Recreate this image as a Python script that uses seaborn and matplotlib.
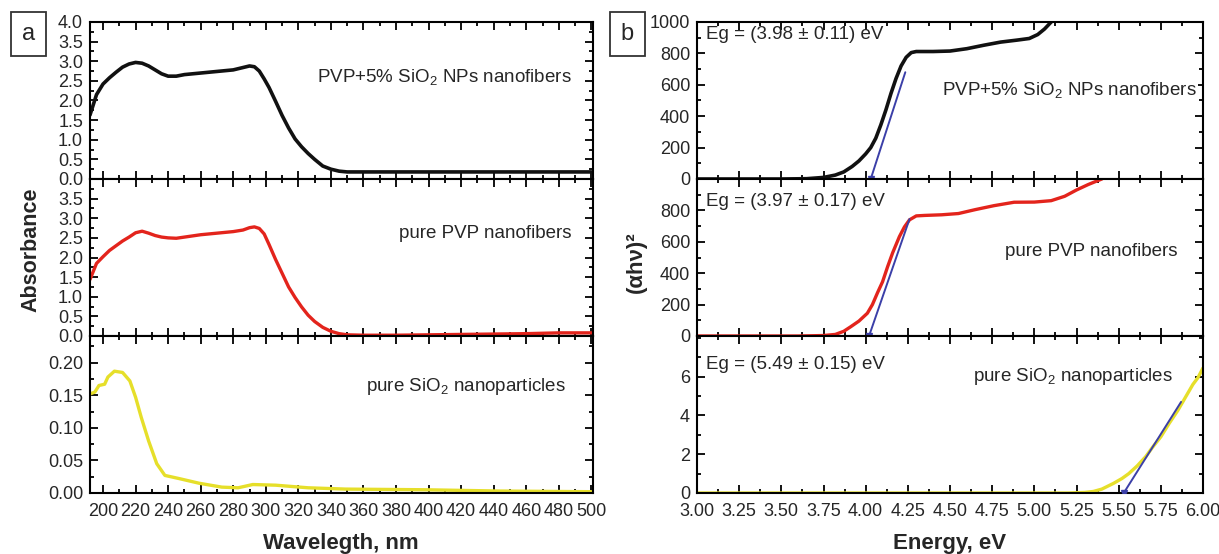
import matplotlib
matplotlib.use("Agg")
import matplotlib.pyplot as plt
from matplotlib.ticker import MultipleLocator
import numpy as np
import pandas as pd
import seaborn as sns

# ---- panel a: absorbance vs wavelength ----
wl_black = [192, 196, 200, 204, 208, 212, 216, 220, 224, 228, 232, 236, 240, 245, 250, 260, 270,
            280, 286, 290, 293, 296, 299, 302, 306, 310, 314, 318, 322, 326, 330, 335, 340, 345,
            350, 360, 400, 450, 500]
abs_black = [1.63, 2.15, 2.42, 2.58, 2.72, 2.85, 2.93, 2.97, 2.95, 2.88, 2.78, 2.68, 2.62, 2.62,
             2.66, 2.70, 2.74, 2.78, 2.84, 2.88, 2.86, 2.75, 2.55, 2.33, 1.98, 1.62, 1.30, 1.02,
             0.82, 0.65, 0.50, 0.33, 0.25, 0.20, 0.18, 0.18, 0.18, 0.18, 0.18]

wl_red = [192, 196, 200, 204, 208, 212, 216, 220, 224, 228, 232, 236, 240, 245, 250, 260, 270,
          280, 286, 290, 293, 296, 299, 302, 306, 310, 314, 318, 322, 326, 330, 335, 340, 345,
          350, 360, 380, 400, 420, 440, 460, 480, 500]
abs_red = [1.44, 1.85, 2.02, 2.18, 2.30, 2.42, 2.52, 2.63, 2.67, 2.62, 2.56, 2.52, 2.50, 2.49,
           2.52, 2.58, 2.62, 2.66, 2.70, 2.76, 2.78, 2.74, 2.60, 2.33, 1.95, 1.60, 1.25, 0.98,
           0.74, 0.53, 0.37, 0.22, 0.12, 0.06, 0.03, 0.02, 0.02, 0.03, 0.04, 0.05, 0.06, 0.08, 0.08]

wl_yel = [192, 195, 197.5, 201, 203, 207, 212, 216.5, 220, 223.5, 228, 233, 238, 247, 259, 273,
          283, 292, 306, 326, 349, 397, 444, 500]
abs_yel = [0.152, 0.155, 0.165, 0.167, 0.178, 0.187, 0.185, 0.172, 0.147, 0.116, 0.080, 0.045,
           0.027, 0.022, 0.015, 0.009, 0.008, 0.013, 0.012, 0.008, 0.006, 0.005, 0.003, 0.002]

# ---- panel b: (alpha h nu)^2 vs energy ----
ev_black = [3.0, 3.5, 3.65, 3.75, 3.82, 3.87, 3.92, 3.96, 4.0, 4.03, 4.06, 4.09, 4.12, 4.15,
            4.18, 4.21, 4.24, 4.27, 4.3, 4.4, 4.5, 4.6, 4.7, 4.8, 4.9, 4.97, 5.02, 5.06, 5.1, 5.14]
ahv_black = [0, 0, 2, 10, 25, 45, 80, 115, 160, 200, 260, 345, 440, 545, 640, 720, 775, 805,
             812, 812, 815, 830, 852, 872, 885, 895, 920, 955, 1000, 1060]

ev_red = [3.0, 3.6, 3.75, 3.82, 3.87, 3.91, 3.96, 4.01, 4.04, 4.07, 4.1, 4.13, 4.16, 4.2, 4.23,
          4.26, 4.3, 4.35, 4.45, 4.55, 4.65, 4.76, 4.88, 5.0, 5.1, 5.18, 5.25, 5.32, 5.4, 5.45]
ahv_red = [0, 0, 3, 10, 30, 58, 95, 145, 200, 275, 345, 441, 530, 633, 695, 740, 765, 768, 772,
           780, 805, 830, 852, 853, 862, 890, 930, 965, 1000, 1040]

ev_yel = [3.0, 5.2, 5.3, 5.35, 5.4, 5.47, 5.52, 5.56, 5.61, 5.66, 5.7, 5.75, 5.8, 5.85, 5.9,
          5.94, 5.97, 6.0]
ahv_yel = [0, 0, 0.03, 0.08, 0.2, 0.5, 0.75, 1.0, 1.4, 1.87, 2.35, 2.9, 3.6, 4.25, 5.0, 5.6,
           5.95, 6.45]

# linear fits (blue tangents), start point is the intercept
fit_black = ([4.03, 4.235], [0, 680])
fit_red = ([4.02, 4.26], [0, 745])
fit_yel = ([5.53, 5.87], [0, 4.7])

eg_labels = ["Eg = (3.98 ± 0.11) eV", "Eg = (3.97 ± 0.17) eV", "Eg = (5.49 ± 0.15) eV"]
names_a = ["PVP+5% SiO$_2$ NPs nanofibers", "pure PVP nanofibers", "pure SiO$_2$ nanoparticles"]

BLACK, RED, YEL, BLUE = "#111111", "#e3241c", "#e6df2a", "#3b3fa8"

sns.set_style("ticks")
plt.rcParams["font.family"] = ["Liberation Sans", "DejaVu Sans"]
plt.rcParams["mathtext.fontset"] = "custom"
plt.rcParams["mathtext.rm"] = "Liberation Sans"
plt.rcParams["mathtext.it"] = "Liberation Sans:italic"

fig = plt.figure(figsize=(12.19, 5.54), dpi=100)
top, bot = 1 - 22 / 554, 1 - 493 / 554
gs_a = fig.add_gridspec(3, 1, left=90 / 1219, right=593 / 1219, top=top, bottom=bot, hspace=0)
gs_b = fig.add_gridspec(3, 1, left=697 / 1219, right=1203 / 1219, top=top, bottom=bot, hspace=0)

axa = [fig.add_subplot(gs_a[i]) for i in range(3)]
axb = [fig.add_subplot(gs_b[i]) for i in range(3)]


def style(ax, xmaj, xmin, ymin, bottom_labels):
    ax.xaxis.set_major_locator(MultipleLocator(xmaj))
    ax.xaxis.set_minor_locator(MultipleLocator(xmin))
    ax.yaxis.set_minor_locator(MultipleLocator(ymin))
    ax.tick_params(which="both", direction="in", top=True, right=True, labelsize=13,
                   width=1.3, color="black")
    ax.tick_params(which="major", length=6)
    ax.tick_params(which="minor", length=3)
    ax.tick_params(axis="x", pad=7, labelbottom=bottom_labels)
    ax.tick_params(axis="y", pad=5)
    for s in ax.spines.values():
        s.set_linewidth(1.5)
        s.set_color("black")
    ax.set_xlabel("")
    ax.set_ylabel("")


# panel a
curves_a = [(wl_black, abs_black, BLACK, 2.6), (wl_red, abs_red, RED, 2.4), (wl_yel, abs_yel, YEL, 2.4)]
ylims_a = [(0, 4.0), (0, 4.0), (0, 0.241)]
yticks_a = [np.arange(0, 4.01, 0.5), np.arange(0, 3.51, 0.5), np.arange(0, 0.201, 0.05)]
ytfmt_a = ["{:.1f}", "{:.1f}", "{:.2f}"]
text_pos_a = [(0.957, 0.65), (0.957, 0.655), (0.946, 0.68)]
for i, ax in enumerate(axa):
    x, y, c, lw = curves_a[i]
    sns.lineplot(x=x, y=y, ax=ax, color=c, lw=lw, sort=False)
    ax.set_xlim(192, 501)
    ax.set_ylim(*ylims_a[i])
    style(ax, 20, 10, 0.25 if i < 2 else 0.025, i == 2)
    ax.set_yticks(yticks_a[i])
    ax.set_yticklabels([ytfmt_a[i].format(v) for v in yticks_a[i]])
    tx, ty = text_pos_a[i]
    ax.text(tx, ty, names_a[i], transform=ax.transAxes, ha="right", va="center", fontsize=13.5)
axa[2].set_xticks(np.arange(200, 501, 20))

# panel b
curves_b = [(ev_black, ahv_black, BLACK, 2.6), (ev_red, ahv_red, RED, 2.4), (ev_yel, ahv_yel, YEL, 2.4)]
fits = [fit_black, fit_red, fit_yel]
ylims_b = [(0, 1000), (0, 1000), (0, 8.1)]
yticks_b = [np.arange(0, 1001, 200), np.arange(0, 801, 200), np.arange(0, 7, 2)]
eg_y = [0.92, 0.855, 0.82]
name_pos_b = [(0.988, 0.565), (0.949, 0.537), (0.94, 0.745)]
for i, ax in enumerate(axb):
    x, y, c, lw = curves_b[i]
    sns.lineplot(x=x, y=y, ax=ax, color=c, lw=lw, sort=False)
    fx, fy = fits[i]
    ax.plot(fx, fy, color=BLUE, lw=1.4, zorder=3)
    ax.plot(fx[:1], fy[:1], marker="v", color=BLUE, ms=5, zorder=3)
    ax.set_xlim(3.0, 6.0)
    ax.set_ylim(*ylims_b[i])
    style(ax, 0.25, 0.125, 100 if i < 2 else 1, i == 2)
    ax.set_yticks(yticks_b[i])
    ax.set_yticklabels([str(int(v)) for v in yticks_b[i]])
    ax.text(0.018, eg_y[i], eg_labels[i], transform=ax.transAxes, ha="left", va="center",
            fontsize=13.5)
    nx, ny = name_pos_b[i]
    ax.text(nx, ny, names_a[i], transform=ax.transAxes, ha="right", va="center", fontsize=13.5,
            bbox=dict(facecolor="white", edgecolor="none", pad=0.5) if i == 0 else None)
axb[2].set_xticks(np.arange(3.0, 6.01, 0.25))
axb[2].set_xticklabels(["{:.2f}".format(v) for v in np.arange(3.0, 6.01, 0.25)])

# axis titles and panel tags
fig.text(341 / 1219, 1 - 543 / 554, "Wavelegth, nm", ha="center", va="center", fontsize=16,
         fontweight="bold")
fig.text(950 / 1219, 1 - 543 / 554, "Energy, eV", ha="center", va="center", fontsize=16,
         fontweight="bold")
fig.text(31 / 1219, 1 - 250 / 554, "Absorbance", ha="center", va="center", rotation=90,
         fontsize=15.5, fontweight="bold")
fig.text(636 / 1219, 1 - 262 / 554, "(αhν)²", ha="center", va="center", rotation=90,
         fontsize=16, fontweight="bold")
for tag, xc in [("a", 28.5), ("b", 627.5)]:
    fig.text(xc / 1219, 1 - 34 / 554, tag, ha="center", va="center", fontsize=17,
             bbox=dict(boxstyle="square,pad=0.45", facecolor="white", edgecolor="#333333", lw=1.3))

fig.savefig("out.png", dpi=100)
